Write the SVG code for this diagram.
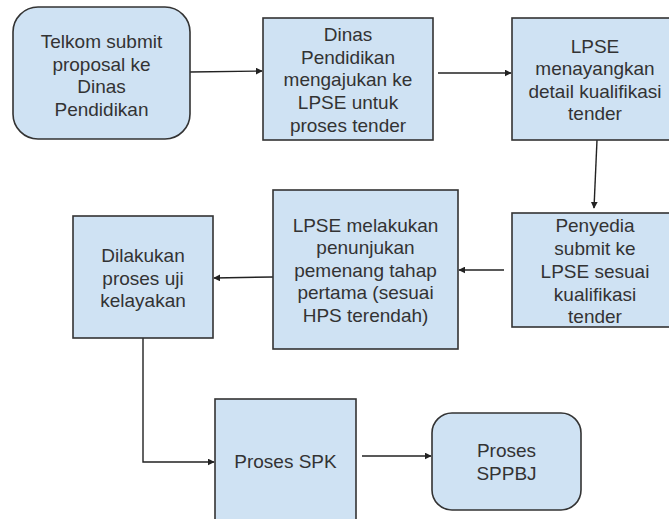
<svg xmlns="http://www.w3.org/2000/svg" width="669" height="519" viewBox="0 0 669 519">
<style>
.box{fill:#cfe2f3;stroke:#333;stroke-width:1.6}
.t{font-family:"Liberation Sans",Arial,sans-serif;font-size:19px;fill:#333;text-anchor:middle}
.c{fill:none;stroke:#222;stroke-width:1.4}
</style>
<defs>
<marker id="ah" viewBox="0 0 10 10" refX="9" refY="5" markerWidth="7" markerHeight="7" markerUnits="userSpaceOnUse" orient="auto">
<path d="M0,0 L10,5 L0,10 z" fill="#222"/>
</marker>
</defs>
<rect width="669" height="519" fill="#fff"/>
<g id="connectors">
<path class="c" d="M190,72 L262,71" marker-end="url(#ah)"/>
<path class="c" d="M438,73 L511,73" marker-end="url(#ah)"/>
<path class="c" d="M597,140 L594,208" marker-end="url(#ah)"/>
<path class="c" d="M504,270 L459,270" marker-end="url(#ah)"/>
<path class="c" d="M273,277 L214,278" marker-end="url(#ah)"/>
<path class="c" d="M143,338 L143,462 L214,462" marker-end="url(#ah)"/>
<path class="c" d="M362,456 L431,456" marker-end="url(#ah)"/>
</g>
<g id="n1">
<rect class="box" x="13" y="7" width="177" height="132" rx="25"/>
<text class="t" x="101.5"><tspan x="101.5" y="48">Telkom submit</tspan><tspan x="101.5" y="70.5">proposal ke</tspan><tspan x="101.5" y="93">Dinas</tspan><tspan x="101.5" y="116">Pendidikan</tspan></text>
</g>
<g id="n2">
<rect class="box" x="263" y="18" width="170" height="122"/>
<text class="t"><tspan x="348" y="41">Dinas</tspan><tspan x="348" y="63.5">Pendidikan</tspan><tspan x="348" y="86">mengajukan ke</tspan><tspan x="348" y="109">LPSE untuk</tspan><tspan x="348" y="131.5">proses tender</tspan></text>
</g>
<g id="n3">
<rect class="box" x="512" y="18" width="166" height="122"/>
<text class="t"><tspan x="595" y="52.5">LPSE</tspan><tspan x="595" y="75">menayangkan</tspan><tspan x="595" y="97.5">detail kualifikasi</tspan><tspan x="595" y="120">tender</tspan></text>
</g>
<g id="n4">
<rect class="box" x="512" y="213" width="166" height="114"/>
<text class="t"><tspan x="595" y="232">Penyedia</tspan><tspan x="595" y="255">submit ke</tspan><tspan x="595" y="277.5">LPSE sesuai</tspan><tspan x="595" y="300.5">kualifikasi</tspan><tspan x="595" y="323">tender</tspan></text>
</g>
<g id="n5">
<rect class="box" x="273" y="190" width="185" height="159"/>
<text class="t"><tspan x="365.5" y="231.5">LPSE melakukan</tspan><tspan x="365.5" y="254">penunjukan</tspan><tspan x="365.5" y="276.5">pemenang tahap</tspan><tspan x="365.5" y="299">pertama (sesuai</tspan><tspan x="365.5" y="321.5">HPS terendah)</tspan></text>
</g>
<g id="n6">
<rect class="box" x="73" y="216" width="140" height="122"/>
<text class="t"><tspan x="143" y="262">Dilakukan</tspan><tspan x="143" y="284.5">proses uji</tspan><tspan x="143" y="307">kelayakan</tspan></text>
</g>
<g id="n7">
<rect class="box" x="215" y="399" width="141" height="130"/>
<text class="t" x="285.5" y="468">Proses SPK</text>
</g>
<g id="n8">
<rect class="box" x="432" y="413" width="149" height="97" rx="20"/>
<text class="t"><tspan x="506.5" y="457">Proses</tspan><tspan x="506.5" y="480">SPPBJ</tspan></text>
</g>
</svg>
